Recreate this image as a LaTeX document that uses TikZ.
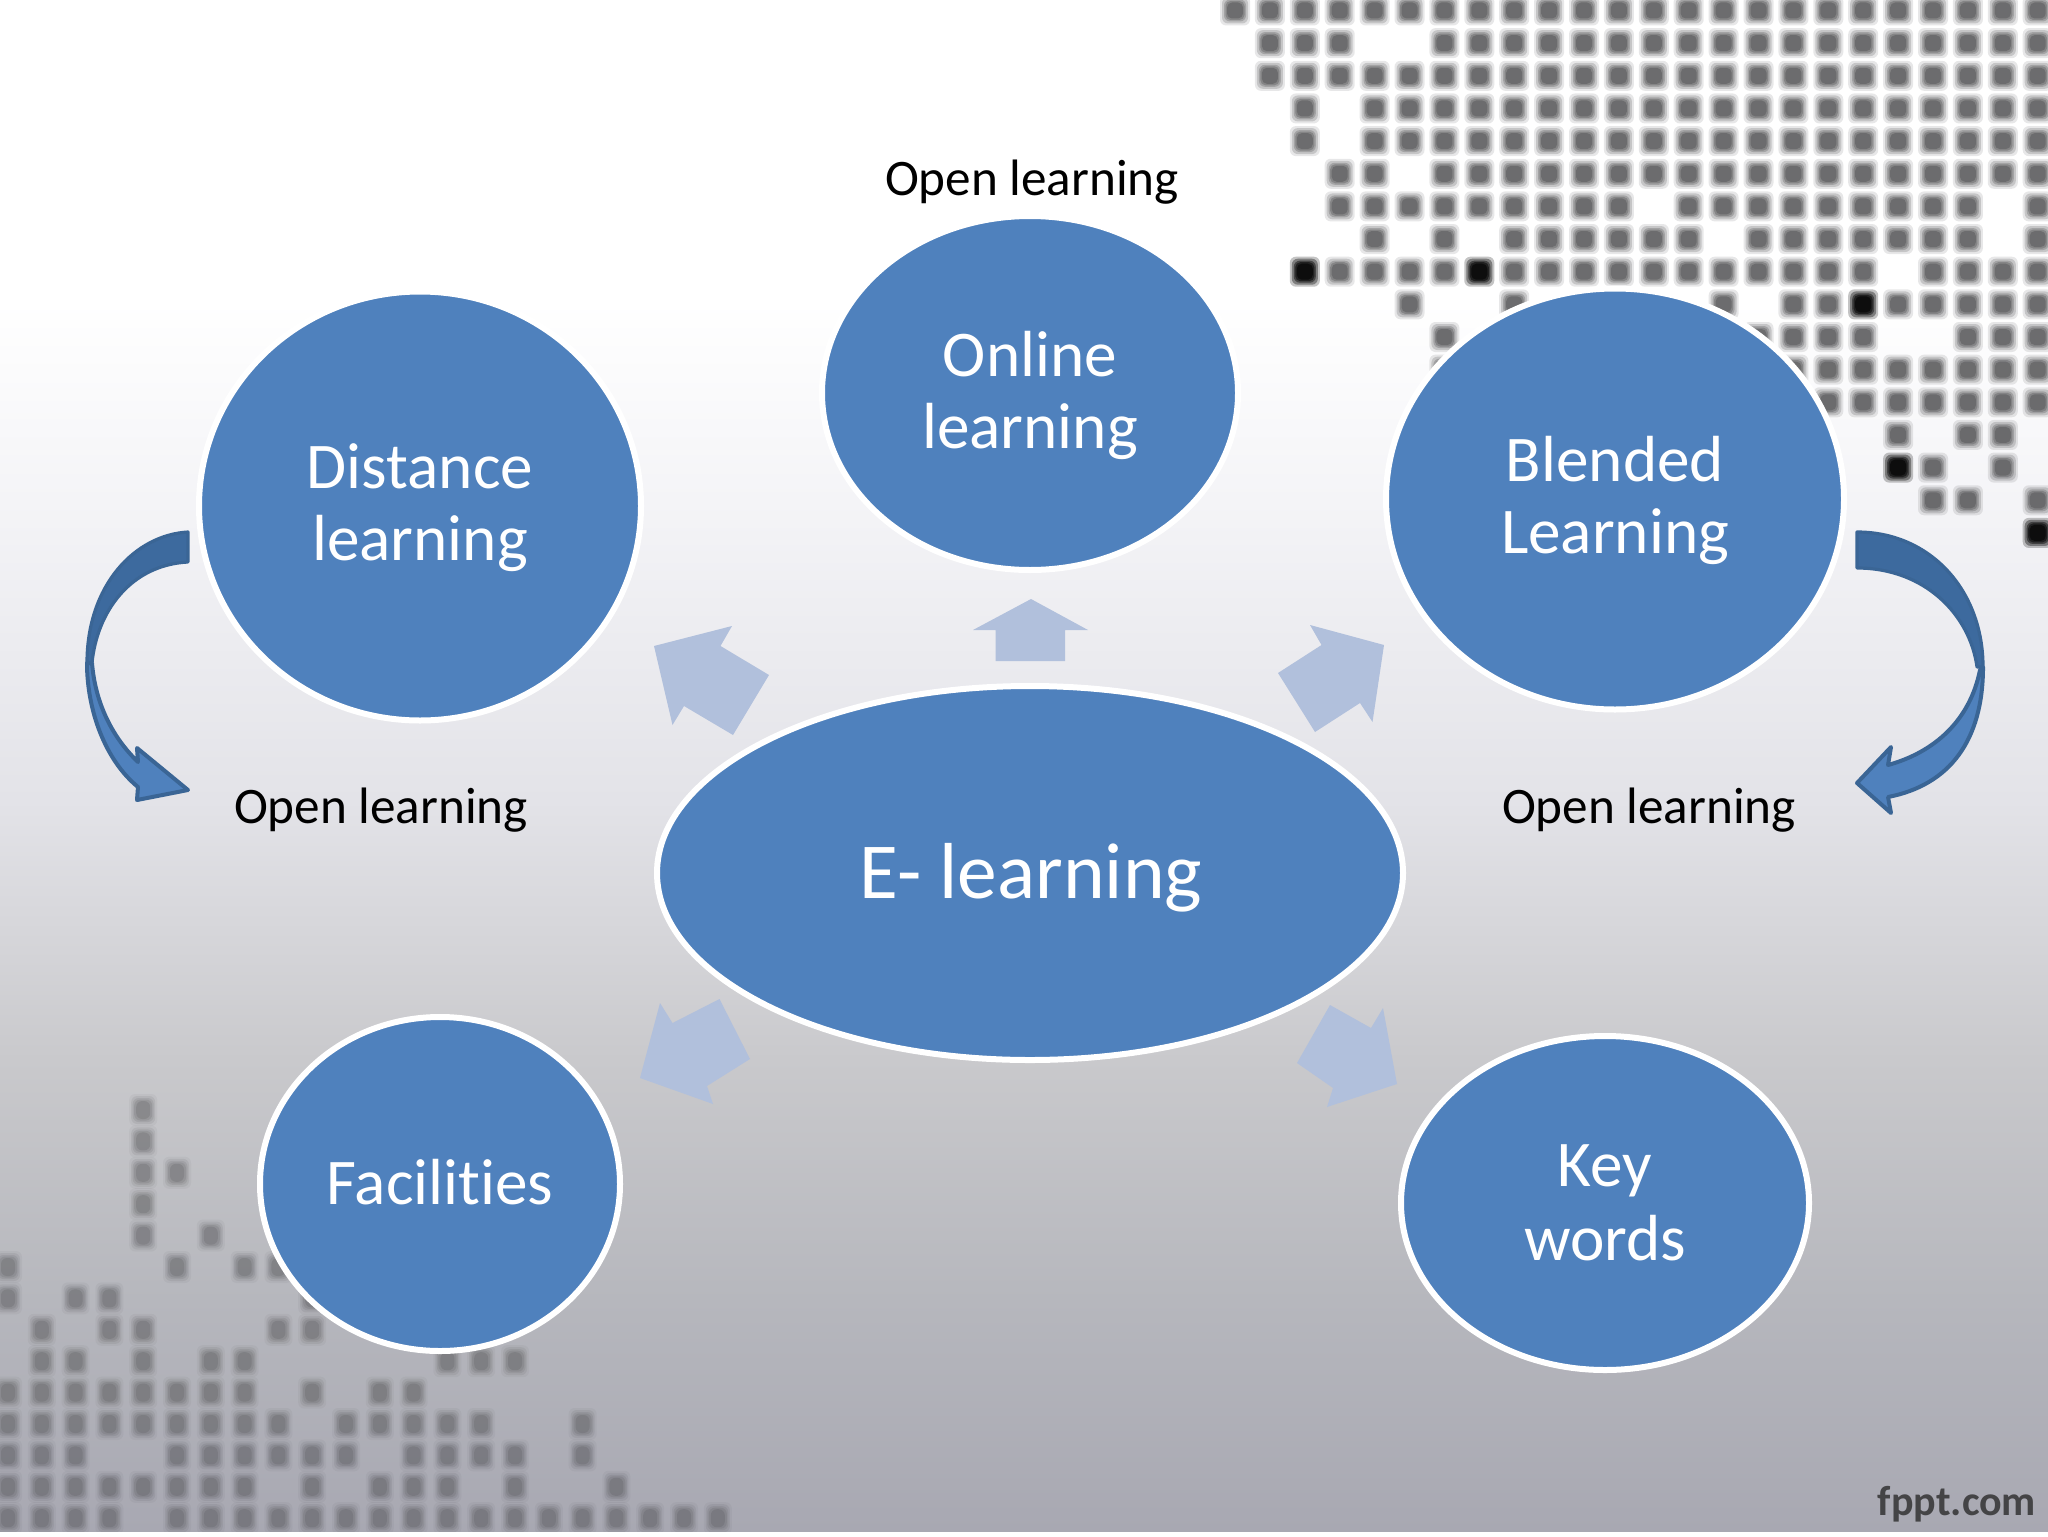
\documentclass[tikz,border=0pt]{standalone}
\usepackage{fontspec}
\setmainfont[Ligatures=NoCommon]{Carlito}
\usetikzlibrary{shapes.geometric}
\definecolor{blob}{HTML}{4F81BD}
\definecolor{ribbondark}{HTML}{3D6A9E}
\definecolor{ribbonline}{HTML}{3A6595}
\definecolor{pale}{HTML}{B1C0DC}
\definecolor{speck}{HTML}{404042}
\definecolor{colA}{HTML}{A8A8B2}
\definecolor{colB}{HTML}{B6B7BD}
\definecolor{colC}{HTML}{C9C9CC}
\definecolor{colD}{HTML}{E3E3E8}
\definecolor{colE}{HTML}{F4F4F7}
\pgfdeclareverticalshading{slidebg}{100bp}{
 color(0bp)=(colA); color(25bp)=(colA); color(32.55bp)=(colB); color(40.4bp)=(colC);
 color(48.85bp)=(colD); color(58.65bp)=(colE); color(65.2bp)=(white); color(100bp)=(white)}
\tikzset{
 bubble/.style={ellipse,fill=blob,draw=white,line width=3pt,inner sep=0pt,outer sep=0pt},
 bubbletext/.style={text=white,align=center,inner sep=0pt,font=\fontsize{32.6}{36}\selectfont},
 caption/.style={text=black,font=\fontsize{25.6}{30}\selectfont,inner sep=0pt},
 palearrow/.style={fill=pale,draw=none},
 ribbonback/.style={fill=ribbondark,draw=ribbonline,line width=1.6pt,line join=round},
 ribbonfront/.style={fill=blob,draw=ribbonline,line width=2pt,line join=round},
}
\newcommand{\speckT}[3]{%
 \fill[#3,opacity=.12,rounded corners=3pt] (#1-15,#2-15) rectangle (#1+15,#2+15);
 \fill[#3,opacity=.2,rounded corners=3pt] (#1-13,#2-13) rectangle (#1+13,#2+13);
 \fill[#3,opacity=.25,rounded corners=3pt] (#1-11,#2-11) rectangle (#1+11,#2+11);
 \fill[#3,opacity=.3,rounded corners=2.5pt] (#1-9.5,#2-9.5) rectangle (#1+9.5,#2+9.5);
 \fill[#3,opacity=.35,rounded corners=2.5pt] (#1-8,#2-8) rectangle (#1+8,#2+8);}
\newcommand{\speckB}[2]{%
 \fill[speck,opacity=.05,rounded corners=3pt] (#1-14,#2-16) rectangle (#1+14,#2+16);
 \fill[speck,opacity=.09,rounded corners=3pt] (#1-12,#2-14) rectangle (#1+12,#2+14);
 \fill[speck,opacity=.11,rounded corners=3pt] (#1-10.5,#2-12) rectangle (#1+10.5,#2+12);
 \fill[speck,opacity=.13,rounded corners=3pt] (#1-9,#2-10.5) rectangle (#1+9,#2+10.5);
 \fill[speck,opacity=.16,rounded corners=3pt] (#1-7,#2-9) rectangle (#1+7,#2+9);}
\begin{document}
\begin{tikzpicture}[x=0.5pt,y=-0.5pt]
\useasboundingbox (0,0) rectangle (2048,1536);
\fill[white] (0,0) rectangle (2048,1536);
\shade[shading=slidebg] (0,0) rectangle (2048,1531);
\begin{scope}
\clip (0,0) rectangle (2048,1531);
% top-right dot field
\foreach \r/\cols in {
 0/{0,...,23},
 1/{1,2,3,6,7,...,23},
 2/{1,...,23},
 3/{2,4,5,...,23},
 4/{2,4,5,...,23},
 5/{3,4,6,7,...,23},
 6/{3,4,...,11,13,14,...,21,23},
 7/{4,6,8,9,...,13,15,16,...,21,23},
 8/{3,4,5,6,8,9,...,18,20,21,22,23},
 9/{5,8,14,16,17,19,20,...,23},
 10/{6,15,16,17,18,21,22,23},
 11/{6,15,16,...,23},
 12/{16,17,...,23},
 13/{19,21,22},
 14/{20,22},
 15/{20,21,23}}{
  \foreach \c in \cols {
   \pgfmathsetmacro\px{1235+34.9*\c}
   \pgfmathsetmacro\py{10.5+32.65*\r}
   \speckT{\px}{\py}{speck}
  }
}
\foreach \c/\r in {2/8,7/8,18/9,19/14,23/16}{
   \pgfmathsetmacro\px{1235+34.9*\c}
   \pgfmathsetmacro\py{10.5+32.65*\r}
   \speckT{\px}{\py}{black}
   \speckT{\px}{\py}{black}
}
% bottom-left dot field
\foreach \r/\cols in {
 0/{4},1/{4},2/{4,5},3/{4},4/{4,6},
 5/{0,5,7,8},
 6/{0,2,3,9},
 7/{1,3,4,8,9},
 8/{1,2,4,6,7,13,14,15},
 9/{0,...,7,9,11,12},
 10/{0,...,8,10,11,...,14,17},
 11/{0,1,2,5,6,...,10,12,13,14,15,17},
 12/{0,...,7,9,11,12,13,15,18},
 13/{0,1,2,3,5,6,...,21}}{
  \foreach \c in \cols {
   \pgfmathsetmacro\px{8+33.8*\c}
   \pgfmathsetmacro\py{1110+31.4*\r}
   \speckB{\px}{\py}
  }
}
\end{scope}
% watermark
\node[text=black!80,opacity=.85,inner sep=0pt,font=\fontsize{21}{24}\selectfont\bfseries] (mark) at (1957,1504) {fppt.com};
% pale block arrows
\fill[palearrow] (1031,599)--(1088,630)--(1065,630)--(1065,661)--(995.5,661)--(995.5,630)--(973,630)--cycle;
\fill[palearrow] (654,646)--(732,626)--(720.5,646)--(769,675)--(733,735)--(684,706)--(672.5,725)--cycle;
\fill[palearrow] (1384,645)--(1310,625)--(1321.5,645)--(1278,673)--(1315,732)--(1360,703)--(1372.5,722)--cycle;
\fill[palearrow] (640,1078)--(660,1003)--(672.5,1023)--(719.5,999)--(750,1059)--(707,1086)--(713,1104)--cycle;
\fill[palearrow] (1397,1084)--(1383,1008)--(1371,1028)--(1330,1005)--(1297,1063)--(1333,1088)--(1327,1107)--cycle;
% bubbles
\node[bubble,minimum width=373pt,minimum height=187pt] (hub) at (1030,873) {};
\node[bubble,minimum width=208pt,minimum height=177pt] (online) at (1030,393) {};
\node[bubble,minimum width=221pt,minimum height=214.5pt] (distance) at (420,506) {};
\node[bubble,minimum width=229pt,minimum height=210.5pt] (blended) at (1615,499) {};
\node[bubble,minimum width=180pt,minimum height=167pt] (facilities) at (440,1184) {};
\node[bubble,minimum width=204pt,minimum height=167pt] (keywords) at (1605,1203) {};
% bubble texts
\node[bubbletext,font=\fontsize{39.7}{46}\selectfont] (hubtext) at (1031,878) {E- learning};
\node[bubbletext] (onlinetext) at (1030,395) {Online\\learning};
\node[bubbletext] (distancetext) at (420,508) {Distance\\learning};
\node[bubbletext] (blendedtext) at (1615,500) {Blended\\Learning};
\node[bubbletext] (facilitiestext) at (440,1182) {Facilities};
\node[bubbletext,font=\fontsize{32.6}{37}\selectfont] (keywordstext) at (1605,1203) {Key\\words};
% captions
\node[caption] (captop) at (1032,182) {Open learning};
\node[caption] (capleft) at (381,810) {Open learning};
\node[caption] (capright) at (1649,810) {Open learning};
% curved ribbons
\draw[ribbonback] (188,532) .. controls (135,535) and (87,585) .. (87,663)
  -- (92,663) .. controls (97,612) and (130,565) .. (188,562) -- cycle;
\draw[ribbonfront] (87,663) .. controls (87,710) and (105,760) .. (138,787)
  -- (137,800) -- (188,790) -- (137,748) -- (138,762)
  .. controls (110,735) and (95,700) .. (92,663) -- cycle;
\draw[ribbonback] (1857,532) .. controls (1930,532) and (1983,590) .. (1983,667)
  -- (1977,667) .. controls (1970,615) and (1925,568) .. (1857,568) -- cycle;
\draw[ribbonfront] (1983,667) .. controls (1983,740) and (1950,785) .. (1888,797)
  -- (1891,813) -- (1857,783) -- (1891,747) -- (1888,765)
  .. controls (1935,752) and (1970,720) .. (1980,670) -- cycle;
\end{tikzpicture}
\end{document}
